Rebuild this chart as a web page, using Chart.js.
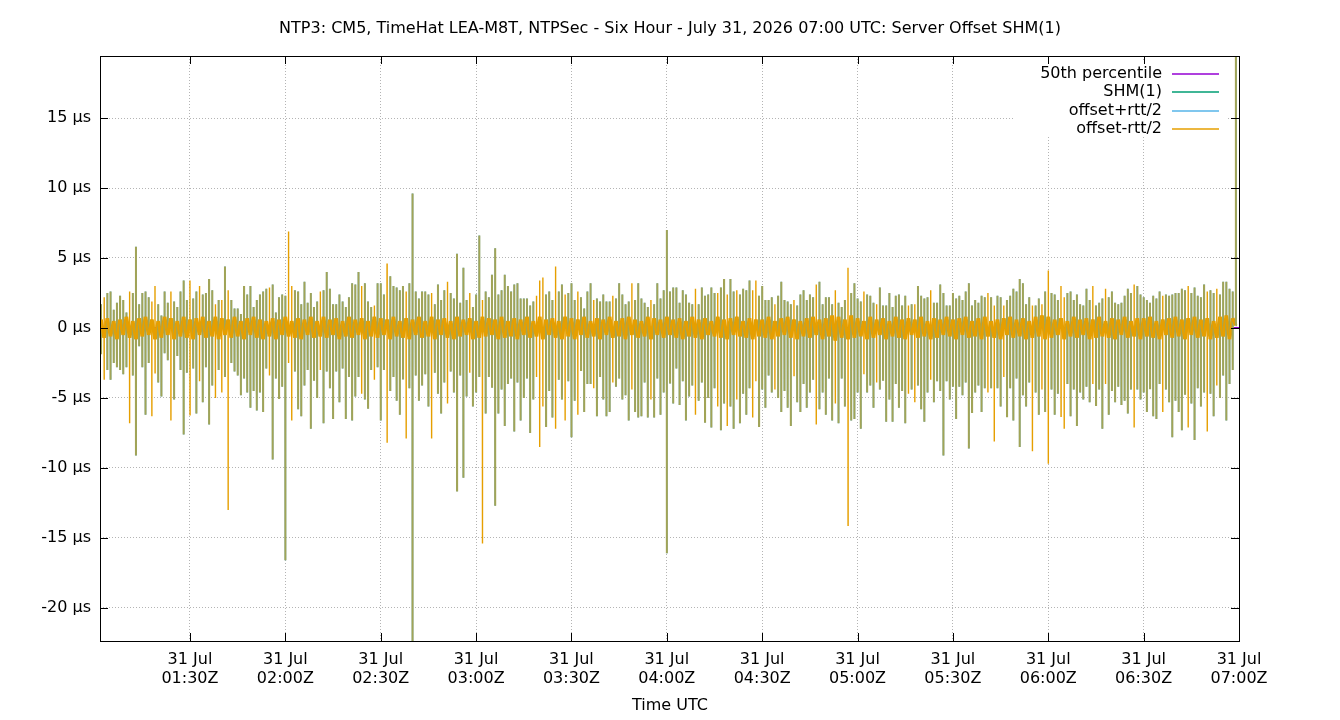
<!DOCTYPE html>
<html>
<head>
<meta charset="utf-8">
<script src="https://cdn.jsdelivr.net/npm/chart.js@4.4.1/dist/chart.umd.min.js"></script>
<style>
  html, body { margin: 0; padding: 0; background: #fff; }
</style>
</head>
<body>
<canvas id="offsetChart" width="1340" height="720"></canvas>
<script>
const chartTitle = "NTP3: CM5, TimeHat LEA-M8T, NTPSec - Six Hour - July 31, 2026 07:00 UTC: Server Offset SHM(1)";
const xAxisTitle = "Time UTC";
const seriesNames = ["50th percentile", "SHM(1)", "offset+rtt/2", "offset-rtt/2"];
const seriesColors = ["#9400d3", "#009e73", "#56b4e9", "#e69f00"];

// x values are minutes after 01:00Z
const xMin = 1.7, xMax = 360;
const xTickMinutes = [30, 60, 90, 120, 150, 180, 210, 240, 270, 300, 330, 360];
const xTickLabels = ["01:30Z", "02:00Z", "02:30Z", "03:00Z", "03:30Z", "04:00Z",
                     "04:30Z", "05:00Z", "05:30Z", "06:00Z", "06:30Z", "07:00Z"];
const xTickDate = "31 Jul";
const yTicks = [-20, -15, -10, -5, 0, 5, 10, 15];
const yMin = -22.36, yMax = 19.43;

const median50 = 0.02;
const firstMinute = 2;   // one sample per minute from 01:02Z

// SHM(1) offset, µs
const offsetMid = [
  0.6,-0.7,0.7,-0.6,0.5,-0.8,0.6,-0.5,0.8,-0.7, 0.5,-0.8,0.7,-0.6,0.8,-0.5,0.6,-0.8,0.5,-0.7, 0.8,-0.5,0.7,-0.8,0.5,-0.6,0.8,-0.7,
  0.6,-0.8,0.7,-0.5,0.8,-0.7,0.5,-0.6,0.8,-0.8, 0.7,-0.5,0.6,-0.7,0.8,-0.6,0.5,-0.8,0.7,-0.5, 0.8,-0.7,0.6,-0.8,0.5,-0.6,0.7,-0.8,0.6,-0.5,
  0.8,-0.6,0.5,-0.7,0.7,-0.8,0.6,-0.5,0.8,-0.7, 0.5,-0.6,0.8,-0.7,0.6,-0.5,0.7,-0.8,0.5,-0.6, 0.8,-0.7,0.6,-0.5,0.7,-0.8,0.5,-0.6,0.8,-0.7,
  0.7,-0.5,0.6,-0.8,0.8,-0.6,0.5,-0.7,0.7,-0.8, 0.6,-0.5,0.8,-0.7,0.5,-0.6,0.8,-0.8,0.6,-0.5, 0.7,-0.7,0.5,-0.8,0.8,-0.6,0.6,-0.5,0.7,-0.8,
  0.5,-0.7,0.8,-0.6,0.7,-0.5,0.6,-0.8,0.8,-0.7, 0.5,-0.6,0.7,-0.8,0.6,-0.5,0.8,-0.7,0.5,-0.6, 0.8,-0.8,0.6,-0.5,0.7,-0.7,0.5,-0.8,0.8,-0.6,
  0.7,-0.8,0.6,-0.5,0.8,-0.7,0.5,-0.6,0.7,-0.8, 0.6,-0.5,0.8,-0.7,0.5,-0.6,0.7,-0.8,0.8,-0.5, 0.6,-0.7,0.5,-0.6,0.8,-0.8,0.7,-0.5,0.6,-0.7,
  0.8,-0.5,0.6,-0.7,0.7,-0.8,0.5,-0.6,0.8,-0.7, 0.6,-0.8,0.7,-0.5,0.5,-0.6,0.8,-0.7,0.6,-0.8, 0.7,-0.5,0.8,-0.6,0.5,-0.7,0.7,-0.8,0.6,-0.6,
  0.6,-0.7,0.8,-0.8,0.5,-0.6,0.7,-0.5,0.8,-0.7, 0.6,-0.8,0.5,-0.6,0.7,-0.7,0.8,-0.5,0.6,-0.8, 0.7,-0.6,0.9,-0.9,0.8,-0.7,0.6,-0.8,0.9,-0.7,
  0.7,-0.6,0.5,-0.8,0.8,-0.7,0.6,-0.5,0.7,-0.8, 0.5,-0.6,0.8,-0.7,0.6,-0.8,0.7,-0.5,0.6,-0.7, 0.8,-0.6,0.5,-0.8,0.7,-0.7,0.6,-0.5,0.8,-0.6,
  0.6,-0.8,0.7,-0.5,0.8,-0.7,0.5,-0.6,0.7,-0.8, 0.8,-0.6,0.5,-0.7,0.6,-0.8,0.7,-0.5,0.8,-0.7, 0.6,-0.6,0.7,-0.8,0.5,-0.7,0.8,-0.6,0.9,-0.8,
  0.8,-0.7,0.6,-0.5,0.7,-0.8,0.5,-0.6,0.8,-0.7, 0.6,-0.5,0.7,-0.8,0.6,-0.7,0.8,-0.6,0.5,-0.7, 0.7,-0.8,0.6,-0.5,0.8,-0.7,0.5,-0.6,0.7,-0.8,
  0.7,-0.6,0.8,-0.7,0.5,-0.8,0.6,-0.5,0.7,-0.7, 0.8,-0.6,0.6,-0.8,0.7,-0.5,0.8,-0.7,0.6,-0.6, 0.7,-0.8,0.5,-0.7,0.8,-0.6,0.9,-0.8,0.7,0.2
];

// offset+rtt/2 peak of each sample, µs
const spikeHigh = [
  1.7, 2.2, 2.5, 2.6, 1.3, 1.8, 2.3, 2.0, 1.1, 2.6,
  2.5, 5.8, 1.7, 2.5, 2.6, 2.2, 1.9, 3.0, 1.7, 0.9,
  2.6, 1.8, 2.6, 1.9, 1.5, 2.6, 3.4, 2.0,
  3.4, 2.1, 2.6, 3.0, 2.4, 2.5, 3.5, 2.7, 1.7, 2.0,
  2.0, 4.4, 2.7, 2.0, 1.4, 1.4, 1.0, 3.0, 2.4, 3.0,
  1.5, 2.0, 2.4, 2.6, 2.8, 2.9, 3.1, 1.1, 2.2, 2.4,
  2.3, 6.9, 3.0, 2.7, 2.6, 1.7, 3.3, 1.8, 2.5, 1.5,
  1.9, 2.6, 2.7, 4.0, 2.8, 1.7, 1.7, 2.4, 1.9, 1.5,
  2.2, 3.2, 3.1, 4.0, 3.0, 3.2, 1.9, 1.5, 1.6, 3.2,
  3.2, 2.4, 4.6, 3.7, 3.0, 2.9, 2.7, 3.0, 2.6, 3.2,
  9.6, 2.6, 2.1, 2.6, 2.6, 2.4, 2.5, 1.7, 3.1, 2.0,
  2.7, 3.3, 2.5, 2.1, 5.3, 1.8, 4.3, 2.0, 2.5, 1.5,
  2.4, 6.6, 2.0, 2.6, 2.2, 3.8, 5.7, 2.4, 2.7, 3.8,
  3.0, 2.6, 3.1, 3.2, 2.1, 2.1, 2.1, 1.6, 1.9, 2.3,
  3.4, 3.6, 2.4, 2.6, 2.0, 4.4, 2.6, 3.1, 2.4, 2.5,
  3.2, 2.0, 2.6, 2.2, 1.4, 2.6, 3.2, 2.0, 2.1, 1.9,
  2.4, 1.9, 1.9, 2.3, 2.1, 3.2, 2.4, 1.7, 1.9, 3.2,
  2.0, 3.2, 2.1, 1.8, 1.5, 2.0, 1.7, 3.2, 2.1, 2.7,
  7.0, 2.6, 2.9, 2.9, 1.8, 2.7, 2.4, 1.8, 1.7, 2.8,
  1.7, 2.9, 2.3, 2.4, 2.9, 2.5, 2.5, 2.9, 3.5, 2.4,
  3.5, 2.6, 2.7, 2.4, 2.8, 2.7, 3.4, 2.7, 3.4, 2.3,
  3.0, 2.0, 2.0, 2.2, 1.7, 2.3, 3.3, 2.0, 1.9, 1.7,
  2.0, 1.6, 2.4, 2.7, 2.0, 2.4, 2.2, 3.1, 3.3, 1.7,
  2.2, 2.2, 1.7, 2.7, 1.8, 1.5, 2.0, 4.3, 2.5, 3.2,
  2.1, 1.9, 2.6, 2.4, 2.3, 1.8, 1.7, 2.9, 1.6, 1.6,
  2.5, 1.5, 2.3, 2.4, 1.6, 2.3, 1.6, 1.7, 1.7, 3.0,
  2.3, 2.1, 2.2, 2.7, 1.8, 1.8, 3.1, 2.5, 1.6, 1.6,
  2.5, 2.1, 2.3, 2.0, 2.6, 3.2, 1.6, 2.0, 1.8, 2.3,
  2.2, 2.5, 2.2, 1.6, 2.3, 2.2, 1.6, 2.0, 2.3, 2.8,
  2.6, 3.5, 3.2, 1.7, 2.2, 1.6, 1.6, 2.1, 1.7, 2.6,
  4.1, 2.5, 2.4, 2.0, 3.0, 2.2, 2.5, 2.6, 2.0, 2.4,
  1.7, 1.6, 2.8, 2.0, 3.0, 1.6, 1.8, 2.1, 2.8, 2.2,
  2.6, 1.8, 1.7, 1.8, 2.3, 2.8, 2.5, 3.1, 3.0, 2.4,
  2.2, 2.0, 1.8, 2.3, 2.1, 2.6, 2.3, 2.4, 2.3, 2.4,
  2.5, 2.5, 2.8, 2.7, 3.0, 2.5, 2.9, 2.3, 2.2, 3.1,
  2.6, 2.7, 2.5, 2.8, 2.4, 3.3, 3.3, 2.8, 2.6, 26
];

// offset-rtt/2 trough of each sample, µs
const spikeLow = [
  -1.8, -3.7, -3.0, -3.7, -2.5, -2.8, -3.0, -3.3, -2.8, -6.8,
  -3.4, -9.1, -1.3, -2.8, -6.2, -2.5, -6.3, -3.2, -3.9, -4.9,
  -1.8, -2.3, -6.6, -5.1, -2.0, -3.0, -7.6, -3.2,
  -6.2, -2.9, -6.1, -3.8, -5.3, -2.8, -6.9, -4.1, -5.0, -3.0,
  -4.6, -3.5, -13.0, -2.5, -3.1, -3.4, -4.8, -3.6, -4.6, -5.7,
  -4.5, -5.9, -4.6, -6.0, -2.9, -3.4, -9.4, -3.6, -5.0, -4.2,
  -16.6, -2.5, -6.6, -3.1, -5.8, -6.3, -4.1, -3.0, -7.2, -3.7,
  -5.0, -3.0, -6.8, -3.1, -4.3, -6.5, -3.1, -5.3, -2.9, -6.5,
  -3.5, -6.6, -4.9, -3.5, -4.7, -5.1, -5.7, -3.0, -3.7, -2.8,
  -6.6, -3.0, -8.2, -4.5, -3.5, -5.2, -6.2, -3.6, -7.9, -4.3,
  -24.0, -3.4, -5.2, -4.1, -3.3, -5.6, -7.9, -3.2, -4.7, -6.1,
  -3.9, -5.4, -3.1, -4.6, -11.6, -3.4, -10.7, -4.9, -3.2, -5.6,
  -4.6, -3.5, -15.4, -6.1, -3.5, -4.2, -12.7, -6.1, -4.4, -7.0,
  -4.0, -3.6, -7.4, -3.9, -6.6, -5.0, -3.6, -7.5, -5.1, -3.5,
  -8.5, -5.6, -7.0, -4.5, -6.4, -7.2, -3.7, -5.1, -6.6, -3.8,
  -7.8, -5.2, -6.2, -3.0, -6.0, -4.0, -4.0, -4.3, -6.3, -3.5,
  -5.1, -6.3, -6.0, -3.9, -4.2, -3.6, -5.1, -4.8, -6.6, -4.4,
  -6.0, -6.4, -6.3, -3.9, -6.4, -5.1, -6.4, -3.6, -6.2, -4.6,
  -16.1, -3.9, -5.4, -2.9, -5.5, -3.8, -6.6, -4.9, -4.1, -6.2,
  -5.2, -3.9, -6.7, -5.0, -7.1, -4.3, -5.6, -7.3, -5.4, -7.0,
  -5.6, -7.2, -5.1, -6.8, -4.7, -6.2, -4.3, -6.4, -3.8, -7.0,
  -4.4, -5.7, -3.4, -4.6, -4.4, -5.0, -6.0, -4.5, -5.7, -7.0,
  -3.4, -5.3, -6.0, -4.0, -5.7, -4.6, -3.7, -6.9, -5.8, -4.6,
  -6.2, -3.6, -6.6, -5.4, -6.8, -3.6, -5.6, -14.1, -6.6, -6.5,
  -4.6, -7.2, -3.3, -4.6, -4.1, -5.7, -3.9, -4.4, -3.7, -6.7,
  -5.1, -6.7, -4.0, -5.7, -4.5, -6.8, -4.7, -4.4, -5.3, -4.1,
  -5.8, -6.7, -4.6, -3.7, -5.3, -3.8, -4.5, -9.1, -3.8, -5.1,
  -4.2, -6.5, -4.2, -4.8, -3.9, -8.6, -6.0, -4.6, -4.1, -6.0,
  -4.3, -4.6, -4.3, -8.1, -4.3, -5.6, -3.5, -6.3, -4.3, -6.6,
  -3.6, -8.5, -4.8, -5.6, -3.9, -8.8, -4.6, -6.2, -4.4, -6.0,
  -9.7, -4.4, -6.2, -4.7, -6.3, -7.2, -4.0, -6.3, -4.4, -7.0,
  -4.6, -5.1, -4.2, -5.3, -4.0, -5.5, -4.4, -7.2, -4.0, -6.2,
  -4.5, -5.3, -4.2, -5.5, -5.2, -6.1, -4.4, -7.1, -4.4, -5.1,
  -4.6, -6.0, -4.3, -6.3, -6.5, -4.0, -6.0, -4.4, -5.3, -7.8,
  -5.2, -6.0, -7.3, -4.7, -7.1, -5.4, -8.0, -4.3, -5.6, -4.6,
  -7.4, -4.7, -6.3, -4.1, -5.0, -3.4, -6.6, -4.0, -3.0, 26
];

// minutes where the spike shows only in offset-rtt/2
const orangeOnly = [3, 11, 18, 19, 24, 30, 33, 38, 40, 42, 55, 61, 62, 71, 84, 88,
  92, 98, 106, 111, 118, 122, 139, 140, 141, 145, 148, 152, 157, 163, 169, 175,
  189, 196, 199, 202, 207, 208, 214, 220, 227, 233, 237, 242, 246, 256, 258, 263,
  281, 283, 286, 295, 298, 300, 304, 305, 314, 318, 327, 336, 344, 350, 353];

const FONT = '"DejaVu Sans", "Liberation Sans", sans-serif';
const FONT_SIZE = 16;
const OLIVE = "#a2a456";   // where the two rtt lines lie on top of each other

// build the point lists from the arrays above
const n = Math.min(offsetMid.length, spikeHigh.length, spikeLow.length);
const shmPoints = [], plusPoints = [], minusPoints = [], minusKind = [];
for (let i = 0; i < n; i++) {
    const t = firstMinute + i;
    const both = !orangeOnly.includes(t);
    shmPoints.push({ x: t, y: offsetMid[i] });
    const pts = [
        { x: t - 0.02, y: offsetMid[i] },
        { x: t, y: spikeHigh[i] },
        { x: t + 0.02, y: spikeLow[i] },
        { x: t + 0.04, y: offsetMid[i] },
    ];
    pts.forEach((p, k) => {
        minusPoints.push(p);
        minusKind.push(k < 3 ? (both ? "mix" : "spike") : "band");
    });
    if (both) {
        plusPoints.push(...pts, { x: t + 0.05, y: null });
    }
}

// title, frame, ticks and the gnuplot style key
const decorations = {
    id: "decorations",
    afterDatasetsDraw(chart) {
        const ctx = chart.ctx;
        const { left, right, top, bottom } = chart.chartArea;
        const xs = chart.scales.x, ys = chart.scales.y;
        ctx.save();
        ctx.fillStyle = "#fff";
        ctx.fillRect(1013, 60, 215, 77);

        ctx.font = FONT_SIZE + "px " + FONT;
        ctx.textBaseline = "middle";
        ctx.textAlign = "right";
        const rows = [73.5, 92, 110.5, 129];
        chart.data.datasets.forEach((ds, i) => {
            ctx.fillStyle = "#000";
            ctx.fillText(ds.label, 1162, rows[i]);
            ctx.strokeStyle = ds.borderColor;
            ctx.lineWidth = 1.5;
            ctx.beginPath();
            ctx.moveTo(1172, Math.round(rows[i]));
            ctx.lineTo(1219, Math.round(rows[i]));
            ctx.stroke();
        });

        ctx.strokeStyle = "#000";
        ctx.lineWidth = 1;
        ctx.beginPath();
        yTicks.forEach(v => {
            const y = Math.round(ys.getPixelForValue(v)) + 0.5;
            ctx.moveTo(left, y); ctx.lineTo(left + 8, y);
            ctx.moveTo(right - 8, y); ctx.lineTo(right, y);
        });
        xTickMinutes.forEach(v => {
            const x = Math.round(xs.getPixelForValue(v)) + 0.5;
            ctx.moveTo(x, bottom); ctx.lineTo(x, bottom - 8);
            ctx.moveTo(x, top); ctx.lineTo(x, top + 8);
        });
        ctx.stroke();
        ctx.strokeRect(left + 0.5, top + 0.5, right - left, bottom - top);

        ctx.fillStyle = "#000";
        ctx.textAlign = "center";
        ctx.fillText(chartTitle, 670, 29);
        ctx.fillText(xAxisTitle, 670, 706);
        ctx.restore();
    }
};

Chart.defaults.font.family = FONT;
Chart.defaults.font.size = FONT_SIZE;
Chart.defaults.color = "#000";

const canvas = document.getElementById("offsetChart");
new Chart(canvas, {
    type: "line",
    data: {
        datasets: [
            {
                label: seriesNames[0],
                data: [{ x: xMin, y: median50 }, { x: xMax, y: median50 }],
                borderColor: seriesColors[0],
                borderWidth: 1.5,
                order: 4,
            },
            {
                label: seriesNames[1],
                data: shmPoints,
                borderColor: seriesColors[1],
                borderWidth: 1,
                order: 3,
            },
            {
                label: seriesNames[2],
                data: plusPoints,
                borderColor: seriesColors[2],
                borderWidth: 1.6,
                spanGaps: false,
                order: 2,
            },
            {
                label: seriesNames[3],
                data: minusPoints,
                borderColor: seriesColors[3],
                borderWidth: 1.4,
                order: 1,
                segment: {
                    borderColor: c => minusKind[c.p0DataIndex] === "mix" ? OLIVE : undefined,
                    borderWidth: c => {
                        const k = minusKind[c.p0DataIndex];
                        return k === "band" ? 3.5 : k === "mix" ? 2 : undefined;
                    },
                },
            },
        ],
    },
    options: {
        responsive: false,
        animation: false,
        devicePixelRatio: 1,
        layout: { padding: { left: 0, right: 101, top: 56, bottom: 0 } },
        elements: { point: { radius: 0 }, line: { tension: 0 } },
        plugins: { legend: { display: false }, tooltip: { enabled: false }, title: { display: false } },
        scales: {
            x: {
                type: "linear",
                min: xMin,
                max: xMax,
                afterFit: s => { s.height = 79; },
                afterBuildTicks: s => { s.ticks = xTickMinutes.map(v => ({ value: v })); },
                ticks: {
                    autoSkip: false,
                    maxRotation: 0,
                    padding: 9.4,
                    callback: (v, i) => [xTickDate, xTickLabels[i]],
                },
                grid: { color: "#b4b4b4", drawTicks: false },
                border: { display: false, dash: [1, 2] },
            },
            y: {
                min: yMin,
                max: yMax,
                afterFit: s => { s.width = 100; },
                afterBuildTicks: s => { s.ticks = yTicks.map(v => ({ value: v })); },
                ticks: {
                    padding: 9,
                    callback: v => v + " µs",
                },
                grid: { color: "#b4b4b4", drawTicks: false },
                border: { display: false, dash: [1, 2] },
            },
        },
    },
    plugins: [decorations],
});
</script>
</body>
</html>
